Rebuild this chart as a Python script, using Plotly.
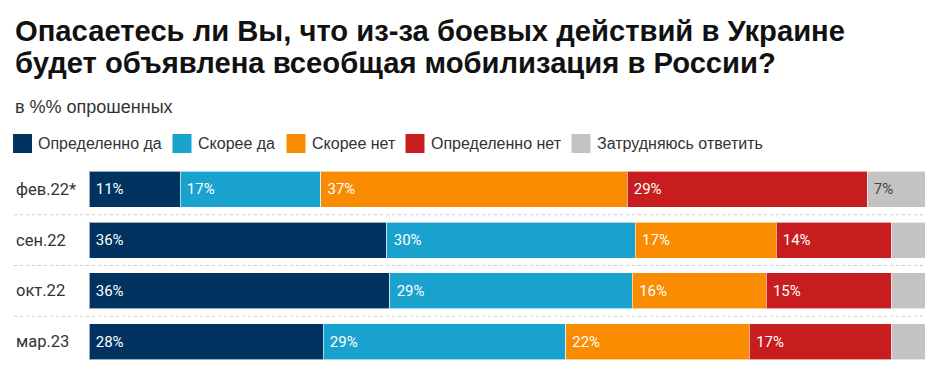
import plotly.graph_objects as go

# ---- data ----
categories = ["фев.22*", "сен.22", "окт.22", "мар.23"]
series_names = ["Определенно да", "Скорее да", "Скорее нет", "Определенно нет", "Затрудняюсь ответить"]
definitely_yes = [11, 36, 36, 28]
rather_yes = [17, 30, 29, 29]
rather_no = [37, 17, 16, 22]
definitely_no = [29, 14, 15, 17]
hard_to_say = [7, 4, 4, 4]

series_values = [definitely_yes, rather_yes, rather_no, definitely_no, hard_to_say]
colors = ["#00335f", "#1aa2cf", "#f98c00", "#c81d1e", "#c3c3c3"]
label_colors = ["#ffffff", "#ffffff", "#ffffff", "#ffffff", "#444444"]

TITLE_LINES = ["Опасаетесь ли Вы, что из-за боевых действий в Украине",
               "будет объявлена всеобщая мобилизация в России?"]
SUBTITLE = "в %% опрошенных"

W, H = 935, 382
ML, MR, MT, MB = 89, 10, 164, 15
PW = W - ML - MR
PH = H - MT - MB


def px(x):
    return (x - ML) / PW


def py(y):
    return (H - MB - y) / PH


fig = go.Figure()
for name, vals, col, tcol in zip(series_names, series_values, colors, label_colors):
    fig.add_trace(go.Bar(
        y=categories, x=vals, name=name, orientation="h",
        marker=dict(color=col, line=dict(color="rgba(255,255,255,0.6)", width=1)),
        text=[("\u00a0" + f"{v}%") if v >= 5 else "" for v in vals],
        textposition="inside", insidetextanchor="start", textangle=0,
        constraintext="none",
        textfont=dict(family="Roboto", size=15, color=tcol),
        showlegend=False, hoverinfo="skip",
    ))

shapes = []
annotations = []

# title (two lines)
for line, yc in zip(TITLE_LINES, [31, 63]):
    annotations.append(dict(xref="paper", yref="paper", x=px(13), y=py(yc), text=line,
                            showarrow=False, xanchor="left", yanchor="middle",
                            font=dict(family="Liberation Sans", size=29.2, color="#111111",
                                      weight="bold")))

# separators
for i in range(len(categories) - 1):
    shapes.append(dict(type="line", xref="paper", yref="y", x0=px(14), x1=1,
                       y0=i + 0.5, y1=i + 0.5,
                       line=dict(color="#cccccc", width=1, dash="dot")))

# category labels (left aligned)
for c in categories:
    annotations.append(dict(xref="paper", yref="y", x=px(14), y=c, text=c,
                            showarrow=False, xanchor="left", yanchor="middle",
                            font=dict(family="Roboto", size=16.5, color="#333333")))

# subtitle
annotations.append(dict(xref="paper", yref="paper", x=px(13), y=py(107), text=SUBTITLE,
                        showarrow=False, xanchor="left", yanchor="middle",
                        font=dict(family="Liberation Sans", size=18, color="#333333")))

# legend (manual)
legend_sq_x = [13, 172.5, 286.5, 405.5, 571.5]
for name, col, sx in zip(series_names, colors, legend_sq_x):
    shapes.append(dict(type="rect", xref="paper", yref="paper",
                       x0=px(sx), x1=px(sx + 19), y0=py(153), y1=py(134),
                       fillcolor=col, line=dict(width=0)))
    annotations.append(dict(xref="paper", yref="paper", x=px(sx + 23), y=py(144), text=name,
                            showarrow=False, xanchor="left", yanchor="middle",
                            font=dict(family="Liberation Sans", size=16, color="#333333")))

fig.update_layout(
    width=W, height=H,
    margin=dict(l=ML, r=MR, t=MT, b=MB),
    paper_bgcolor="white", plot_bgcolor="white",
    barmode="stack", barnorm="percent", bargap=0.29,
    xaxis=dict(visible=False, range=[0, 100], fixedrange=True),
    yaxis=dict(visible=False, autorange="reversed", fixedrange=True),
    shapes=shapes, annotations=annotations,
    uniformtext=dict(minsize=15, mode="show"),
)

fig.write_html("out.html", config={"displayModeBar": False},
               post_script="document.body.style.margin='0';")
